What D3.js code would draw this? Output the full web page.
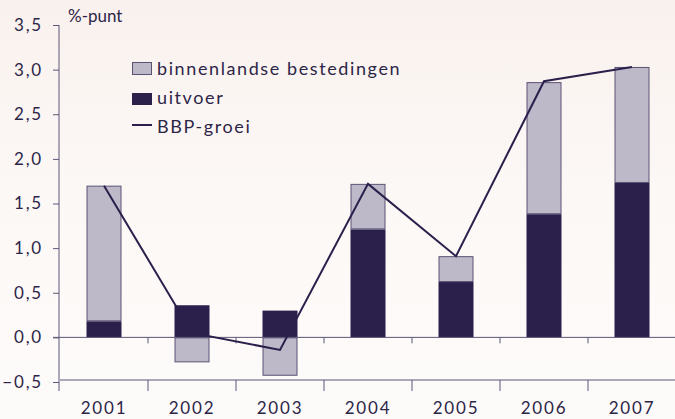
<!DOCTYPE html>
<html>
<head>
<meta charset="utf-8">
<script src="https://cdn.jsdelivr.net/npm/d3@7"></script>
<style>
  html, body { margin: 0; padding: 0; }
  body { width: 675px; height: 419px; overflow: hidden; }
</style>
</head>
<body>
<div id="chart"></div>
<script>
const years = ["2001", "2002", "2003", "2004", "2005", "2006", "2007"];
const binnenlands = [1.52, -0.28, -0.43, 0.51, 0.29, 1.48, 1.30];
const uitvoer = [0.18, 0.36, 0.30, 1.21, 0.62, 1.38, 1.73];
const bbpGroei = [1.70, 0.05, -0.14, 1.72, 0.91, 2.87, 3.03];
const yTicks = [-0.5, 0, 0.5, 1.0, 1.5, 2.0, 2.5, 3.0, 3.5];

const W = 675, H = 419;
const dark = "#2b1f4b", light = "#bdb9c8", axisCol = "#5d5676", textCol = "#2d2547";
const lf = "Lato, 'Open Sans', sans-serif";

const svg = d3.select("#chart").append("svg")
    .attr("width", W)
    .attr("height", H);

// achtergrond
const grad = svg.append("defs").append("linearGradient")
    .attr("id", "bg").attr("x1", 0).attr("y1", 0).attr("x2", 0).attr("y2", 1);
grad.append("stop").attr("offset", "0%").attr("stop-color", "#f9f1ee");
grad.append("stop").attr("offset", "45%").attr("stop-color", "#fcf8f6");
grad.append("stop").attr("offset", "100%").attr("stop-color", "#fdfbfa");
svg.append("rect").attr("width", W).attr("height", H).attr("fill", "url(#bg)");

const x = d3.scaleBand()
    .domain(years)
    .range([60, 676])
    .paddingInner(0)
    .paddingOuter(0);

const y = d3.scaleLinear()
    .domain([-0.5, 3.5])
    .range([382, 25]);

const barW = 35;
const fmt = d => d3.format(".1f")(d).replace(".", ",");

// bars
years.forEach((yr, i) => {
    const cx = x(yr) + x.bandwidth() / 2;
    const u = uitvoer[i], b = binnenlands[i];
    // uitvoer
    svg.append("rect")
        .attr("x", cx - barW / 2)
        .attr("y", y(u))
        .attr("width", barW)
        .attr("height", y(0) - y(u))
        .attr("fill", dark);
    // binnenlandse bestedingen, positief gestapeld op uitvoer
    const base = b >= 0 ? u : 0;
    const top = base + b;
    svg.append("rect")
        .attr("x", cx - barW / 2 + 0.5)
        .attr("y", y(Math.max(base, top)) + 0.5)
        .attr("width", barW - 1)
        .attr("height", Math.abs(y(base) - y(top)) - 1)
        .attr("fill", light)
        .attr("stroke", "#5a5274")
        .attr("stroke-width", 1);
});

// y-as
const yAxis = svg.append("g")
    .attr("transform", "translate(59,0)")
    .call(d3.axisLeft(y).tickValues(yTicks).tickSize(6).tickFormat(fmt));
yAxis.select(".domain").attr("stroke", axisCol).attr("d", `M0,${y(3.5)}V${y(-0.5) + 9}`);
yAxis.selectAll(".tick line").attr("stroke", axisCol);
yAxis.selectAll(".tick text")
    .attr("x", -16)
    .attr("fill", textCol)
    .style("font-family", lf)
    .style("font-size", "17px")
    .style("letter-spacing", "1.8px");

// nullijn
svg.append("line")
    .attr("x1", 53).attr("x2", W)
    .attr("y1", y(0)).attr("y2", y(0))
    .attr("stroke", axisCol).attr("stroke-width", 1);
svg.selectAll(".zerotick")
    .data(years.slice(1))
    .enter().append("line")
    .attr("x1", d => x(d)).attr("x2", d => x(d))
    .attr("y1", y(0)).attr("y2", y(0) + 6)
    .attr("stroke", axisCol);

// x-as onder
const xAxis = svg.append("g")
    .attr("transform", `translate(0,${y(-0.5) - 2})`)
    .call(d3.axisBottom(x).tickSize(0));
xAxis.select(".domain").attr("stroke", axisCol).attr("d", `M60,0H${W}`);
xAxis.selectAll(".tick text")
    .attr("y", 22)
    .attr("fill", textCol)
    .style("font-family", lf)
    .style("font-size", "17px")
    .style("letter-spacing", "1.8px");
svg.selectAll(".btick")
    .data(years.slice(1))
    .enter().append("line")
    .attr("x1", d => x(d)).attr("x2", d => x(d))
    .attr("y1", y(-0.5) - 2).attr("y2", y(-0.5) + 9)
    .attr("stroke", axisCol);

// BBP-groei lijn
const line = d3.line()
    .x((d, i) => x(years[i]) + x.bandwidth() / 2)
    .y(d => y(d));
svg.append("path")
    .datum(bbpGroei)
    .attr("d", line)
    .attr("fill", "none")
    .attr("stroke", dark)
    .attr("stroke-width", 2);

// eenheid
svg.append("text")
    .attr("x", 68).attr("y", 22)
    .attr("fill", textCol)
    .style("font-family", lf)
    .style("font-size", "17px")
    .text("%-punt");

// legenda
const legend = svg.append("g").attr("transform", "translate(132,62)");
legend.append("rect").attr("x", 0.5).attr("y", 0.5).attr("width", 19).attr("height", 12)
    .attr("fill", light).attr("stroke", "#5a5274");
legend.append("rect").attr("x", 0).attr("y", 31).attr("width", 20).attr("height", 12)
    .attr("fill", dark);
legend.append("line").attr("x1", 0).attr("x2", 20).attr("y1", 63).attr("y2", 63)
    .attr("stroke", dark).attr("stroke-width", 2);
const labels = ["binnenlandse bestedingen", "uitvoer", "BBP-groei"];
legend.selectAll(".lt")
    .data(labels)
    .enter().append("text")
    .attr("x", 25)
    .attr("y", (d, i) => 13 + i * 29)
    .attr("fill", textCol)
    .style("font-family", lf)
    .style("font-size", "18px")
    .style("letter-spacing", "1.6px")
    .text(d => d);
</script>
</body>
</html>
